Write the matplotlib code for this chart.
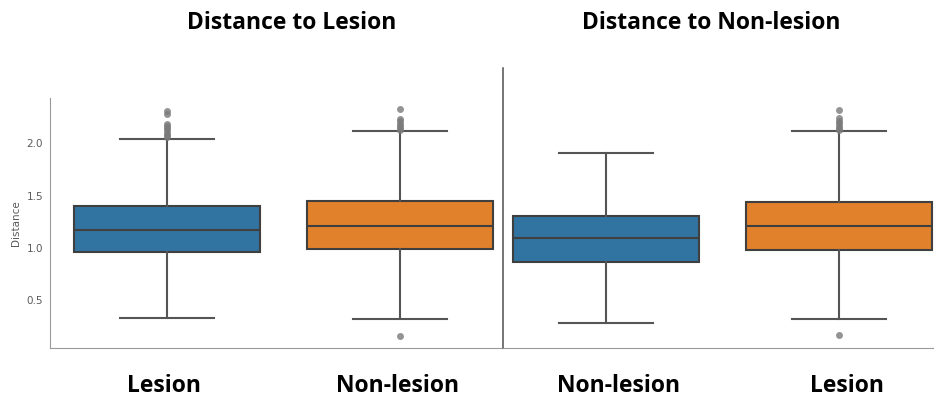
import matplotlib
matplotlib.use("Agg")
import matplotlib.pyplot as plt

# box statistics per panel (Distance values)
left_groups = ["Lesion", "Non-lesion"]
left_q1 = [0.96, 0.99]
left_med = [1.175, 1.21]
left_q3 = [1.40, 1.45]
left_whislo = [0.33, 0.32]
left_whishi = [2.045, 2.115]
left_fliers = [
    [2.06, 2.08, 2.10, 2.13, 2.15, 2.17, 2.19, 2.28, 2.31],
    [0.16, 2.13, 2.15, 2.17, 2.19, 2.21, 2.23, 2.33],
]

right_groups = ["Non-lesion", "Lesion"]
right_q1 = [0.866, 0.985]
right_med = [1.10, 1.21]
right_q3 = [1.31, 1.44]
right_whislo = [0.28, 0.32]
right_whishi = [1.905, 2.12]
right_fliers = [
    [],
    [0.165, 2.13, 2.15, 2.17, 2.19, 2.21, 2.24, 2.32],
]

titles = ["Distance to Lesion", "Distance to Non-lesion"]
box_colors = ["#3274a1", "#e1812c"]
edge = "#3f3f3f"


def make_stats(q1, med, q3, lo, hi, fliers):
    return [
        dict(q1=a, med=b, q3=c, whislo=d, whishi=e, fliers=f)
        for a, b, c, d, e, f in zip(q1, med, q3, lo, hi, fliers)
    ]


def draw_boxes(ax, stats):
    bp = ax.bxp(
        stats,
        positions=range(len(stats)),
        widths=0.8,
        capwidths=0.4,
        patch_artist=True,
        boxprops=dict(edgecolor=edge, linewidth=1.5),
        medianprops=dict(color=edge, linewidth=1.5),
        whiskerprops=dict(color="#555555", linewidth=1.5),
        capprops=dict(color="#555555", linewidth=1.5),
        flierprops=dict(marker="o", markersize=5, markerfacecolor="#7a7a7a",
                        markeredgecolor="none", alpha=0.8),
    )
    for patch, c in zip(bp["boxes"], box_colors):
        patch.set_facecolor(c)
    for side in ["top", "right"]:
        ax.spines[side].set_visible(False)
    ax.spines["bottom"].set_color("#9a9a9a")
    ax.tick_params(length=0)
    ax.set_xticks([])


fig = plt.figure(figsize=(9.34, 3.99), dpi=100)

ax1 = fig.add_axes([50 / 934, 51 / 399, 453 / 934, 250 / 399])
draw_boxes(ax1, make_stats(left_q1, left_med, left_q3, left_whislo, left_whishi, left_fliers))
ax1.set_xlim(-0.502, 1.442)
ax1.set_ylim(0.044, 2.434)
ax1.set_yticks([0.5, 1.0, 1.5, 2.0])
ax1.tick_params(axis="y", labelsize=7.5, labelcolor="#5a5a5a", pad=5)
ax1.set_ylabel("Distance", fontsize=7.5, color="#5a5a5a", labelpad=4)
ax1.spines["left"].set_color("#9a9a9a")

ax2 = fig.add_axes([503 / 934, 51 / 399, 431 / 934, 280 / 399])
draw_boxes(ax2, make_stats(right_q1, right_med, right_q3, right_whislo, right_whishi, right_fliers))
ax2.set_xlim(-0.442, 1.408)
ax2.set_ylim(0.044, 2.72)
ax2.set_yticks([])
ax2.spines["left"].set_color("#505050")
ax2.spines["left"].set_linewidth(1.1)

title_font = dict(family="Open Sans", weight="bold", size=16.5, ha="center", va="center")
fig.text(292 / 934, 1 - 23 / 399, titles[0], **title_font)
fig.text(711 / 934, 1 - 23 / 399, titles[1], **title_font)

label_x = [164, 398, 619, 847]
for x, name in zip(label_x, left_groups + right_groups):
    fig.text(x / 934, 1 - 386 / 399, name, **title_font)

fig.savefig("out.png", dpi=100, facecolor="white")
